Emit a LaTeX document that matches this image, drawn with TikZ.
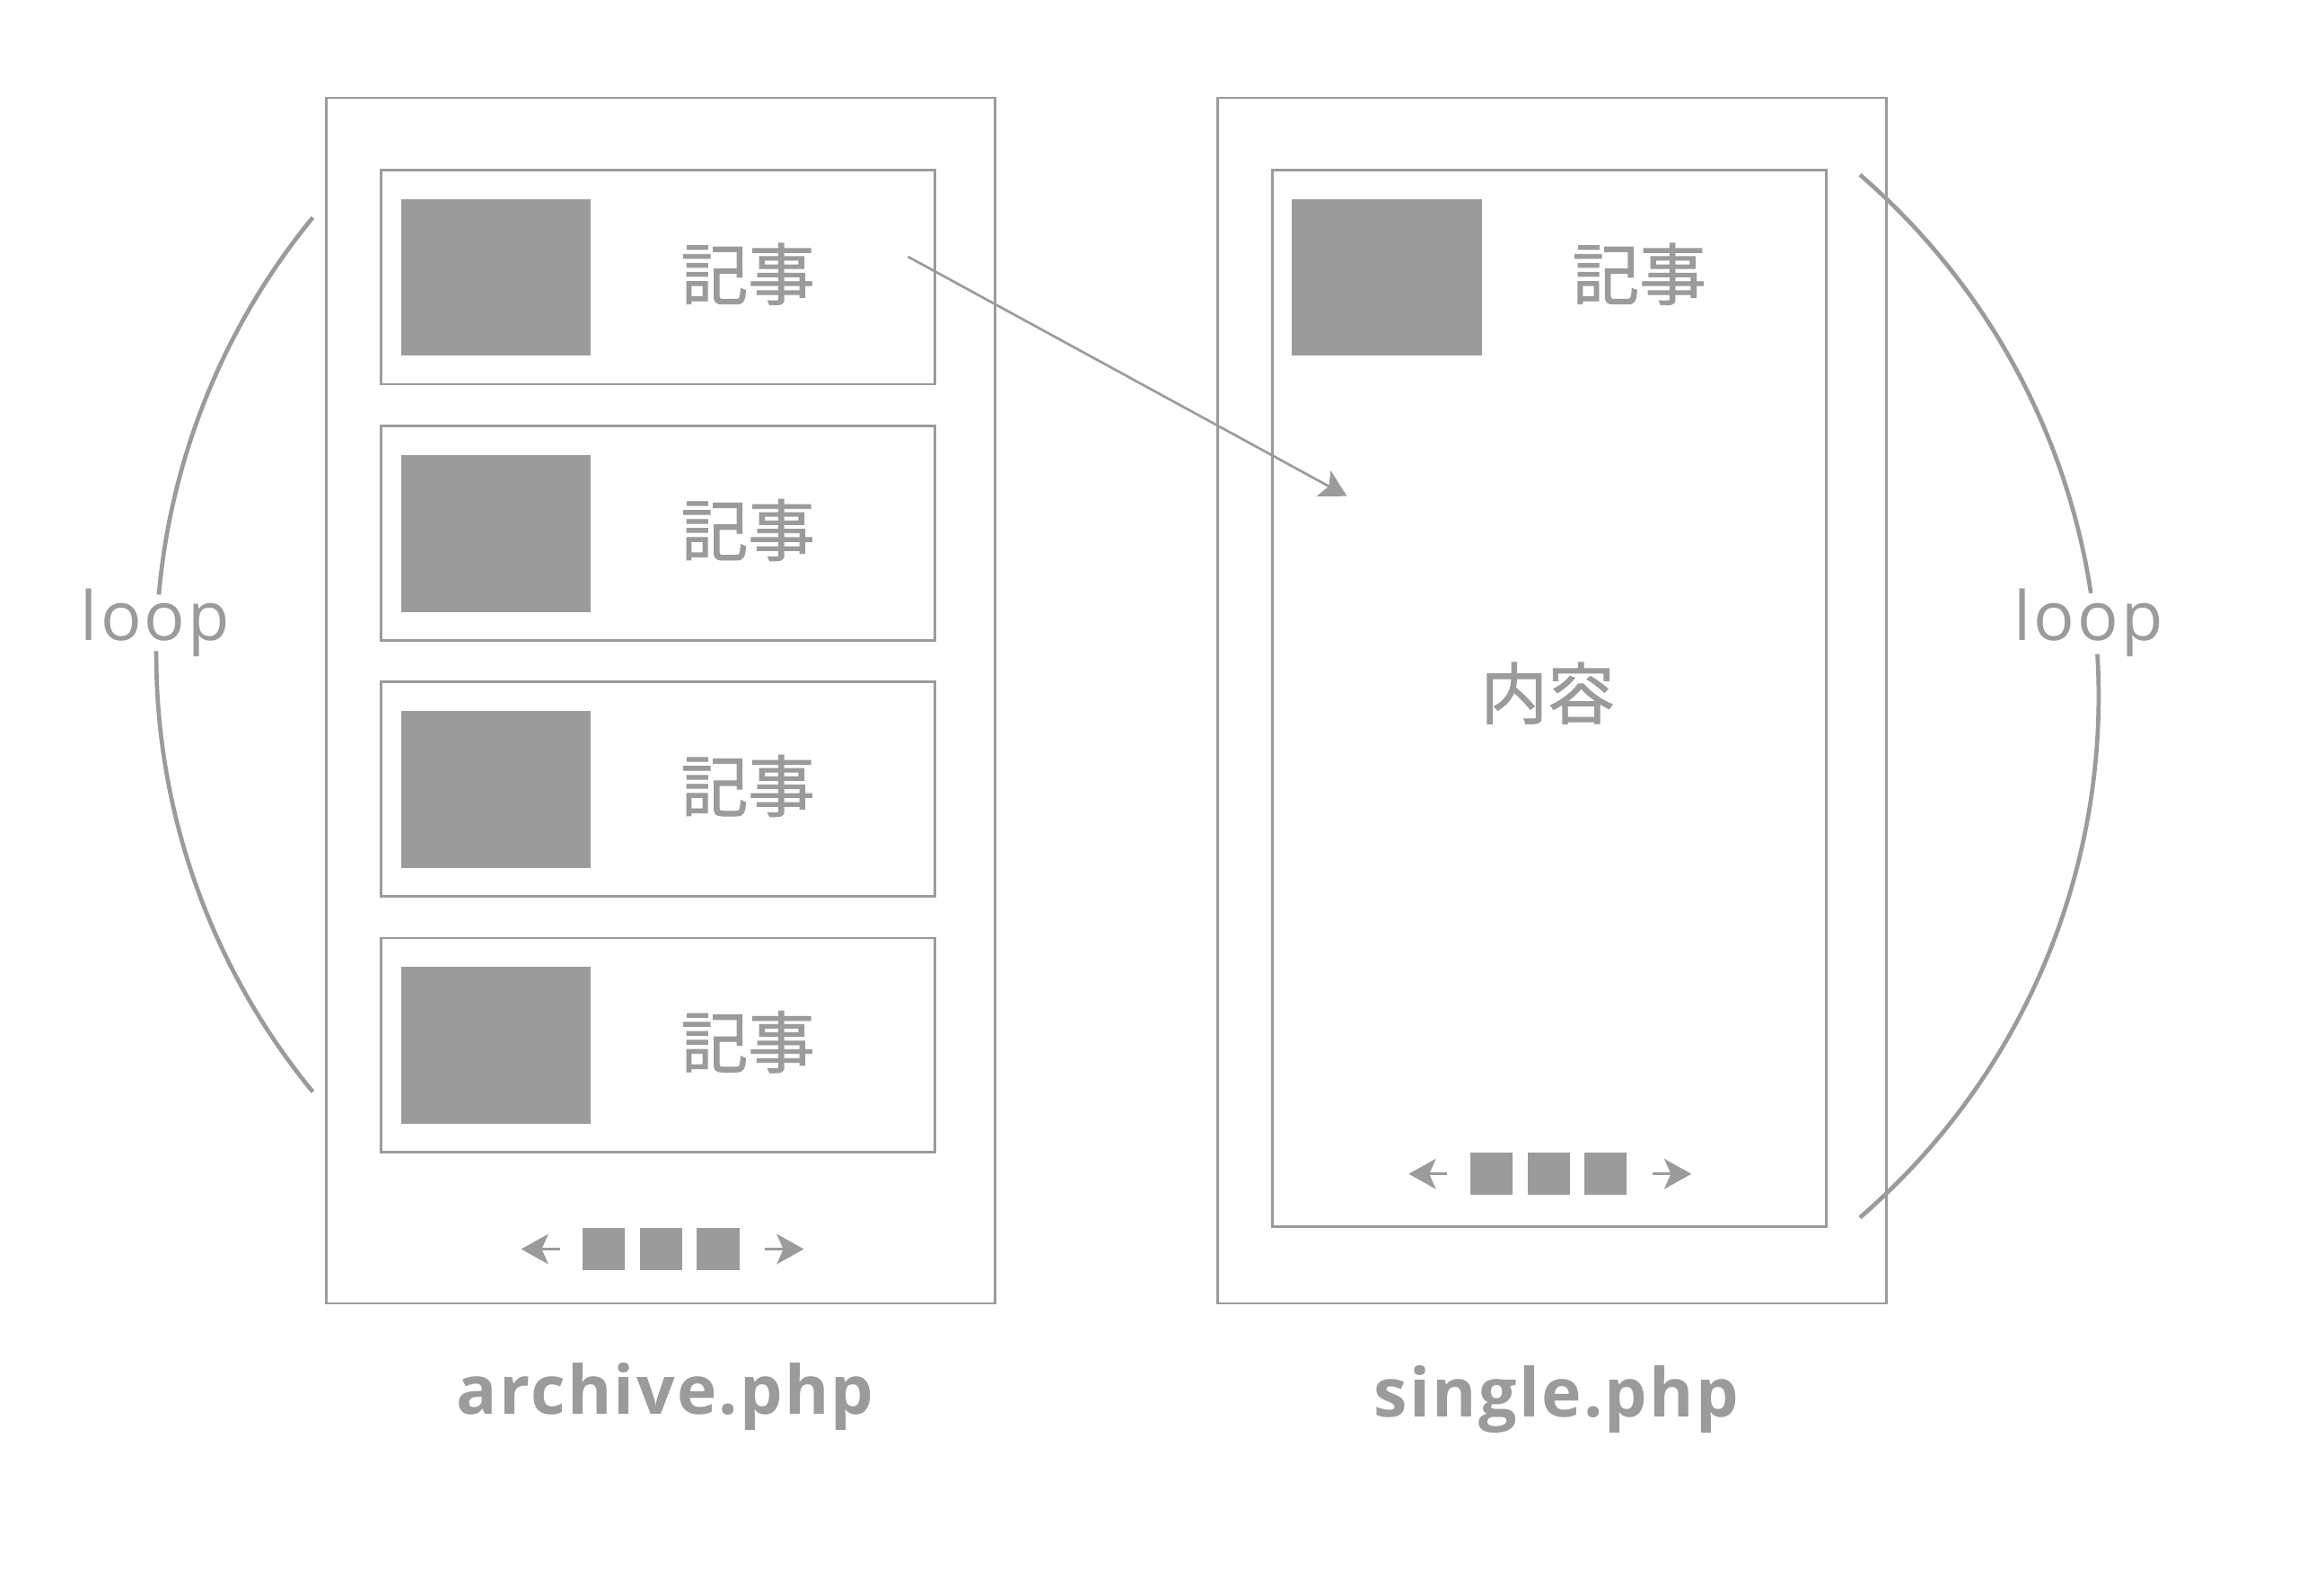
\documentclass[tikz,border=0pt]{standalone}
\usepackage{fontspec}
\setmainfont{Open Sans}
\newfontfamily\jpfont[FakeBold=1.2]{Noto Sans CJK JP}
\newfontfamily\loopfont[LetterSpace=4]{Open Sans}
\newfontfamily\phpfont[LetterSpace=3]{Open Sans}
\usetikzlibrary{arrows.meta}
\definecolor{gr}{RGB}{155,155,155}
\tikzset{
  frame/.style={draw=gr, line width=0.47pt, inner sep=0pt, outer sep=0pt, anchor=north west},
  thumb/.style={fill=gr, inner sep=0pt, outer sep=0pt, anchor=north west, minimum width=12.96mm, minimum height=10.7mm},
  pgsq/.style={fill=gr, inner sep=0pt, outer sep=0pt, anchor=north west, minimum size=2.88mm},
  kiji/.style={font=\jpfont\fontsize{13}{15}\selectfont, text=gr, inner sep=0pt},
  looplabel/.style={font=\loopfont\fontsize{13.2}{15}\selectfont, text=gr, inner sep=0pt, anchor=base},
  filelabel/.style={font=\phpfont\bfseries\fontsize{13.1}{15}\selectfont, text=gr, inner sep=0pt, anchor=base},
  looparc/.style={draw=gr, line width=0.82pt},
  linkarrow/.style={draw=gr, line width=0.47pt, -{Stealth[length=1.8mm, width=2.0mm, inset=0.4mm]}},
  pgarrow/.style={draw=gr, line width=0.57pt, -{Stealth[length=1.85mm, width=2.05mm, inset=0.45mm]}}
}
\begin{document}
\begin{tikzpicture}[x=0.1mm, y=-0.1mm]
\useasboundingbox (0,0) rectangle (1568,1089);

% ---------- archive.php ----------
\node[frame, minimum width=45.65mm, minimum height=82.26mm] (archive) at (222.5,66.8) {};
\foreach \i/\t in {1/116, 2/290.7, 3/465.3, 4/640} {
  \node[frame, minimum width=37.82mm, minimum height=14.62mm] (post\i) at (259.8,\t) {};
  \node[thumb] (thumb\i) at (273.5,\t+19.8) {};
  \node[kiji] (kiji\i) at (510.4,\t+71) {記事};
}
\node[pgsq] (pa1) at (397.4,837.9) {};
\node[pgsq] (pa2) at (436.6,837.9) {};
\node[pgsq] (pa3) at (475.6,837.9) {};
\coordinate (paLs) at (382,852.3);
\coordinate (paLe) at (355.6,852.3);
\coordinate (paRs) at (521.7,852.3);
\coordinate (paRe) at (548.5,852.3);
\draw[pgarrow] (paLs) -- (paLe);
\draw[pgarrow] (paRs) -- (paRe);
\node[filelabel] (archivelabel) at (454,965) {archive.php};

% ---------- single.php ----------
\node[frame, minimum width=45.65mm, minimum height=82.26mm] (single) at (830.7,66.8) {};
\node[frame, minimum width=37.8mm, minimum height=72.1mm] (article) at (868,116) {};
\node[thumb] (sthumb) at (881.5,135.7) {};
\node[kiji] (skiji) at (1118.5,187) {記事};
\node[kiji] (content) at (1056,473) {内容};
\node[pgsq] (ps1) at (1003,786.6) {};
\node[pgsq] (ps2) at (1042.2,786.6) {};
\node[pgsq] (ps3) at (1081.2,786.6) {};
\coordinate (psLs) at (987.6,801);
\coordinate (psLe) at (961.2,801);
\coordinate (psRs) at (1127.3,801);
\coordinate (psRe) at (1154.1,801);
\draw[pgarrow] (psLs) -- (psLe);
\draw[pgarrow] (psRs) -- (psRe);
\node[filelabel] (singlelabel) at (1062,967) {single.php};

% ---------- link arrow ----------
\coordinate (linkstart) at (619.5,175.1);
\coordinate (linkend) at (919,338.5);
\draw[linkarrow] (linkstart) -- (linkend);

% ---------- loops ----------
\node[looplabel] (loopL) at (106,436.8) {loop};
\node[looplabel] (loopR) at (1425,436.8) {loop};
\coordinate (cL) at (576.6,446.7);
\coordinate (cR) at (962,475);
\draw[looparc] (cL) ++(140.6:47mm) arc[start angle=140.6, end angle=175.0, radius=47mm];
\draw[looparc] (cL) ++(179.7:47mm) arc[start angle=179.7, end angle=219.4, radius=47mm];
\draw[looparc] (cR) ++(49.2:47mm) arc[start angle=49.2, end angle=8.6, radius=47mm];
\draw[looparc] (cR) ++(3.5:47mm) arc[start angle=3.5, end angle=-49.2, radius=47mm];
\end{tikzpicture}
\end{document}
